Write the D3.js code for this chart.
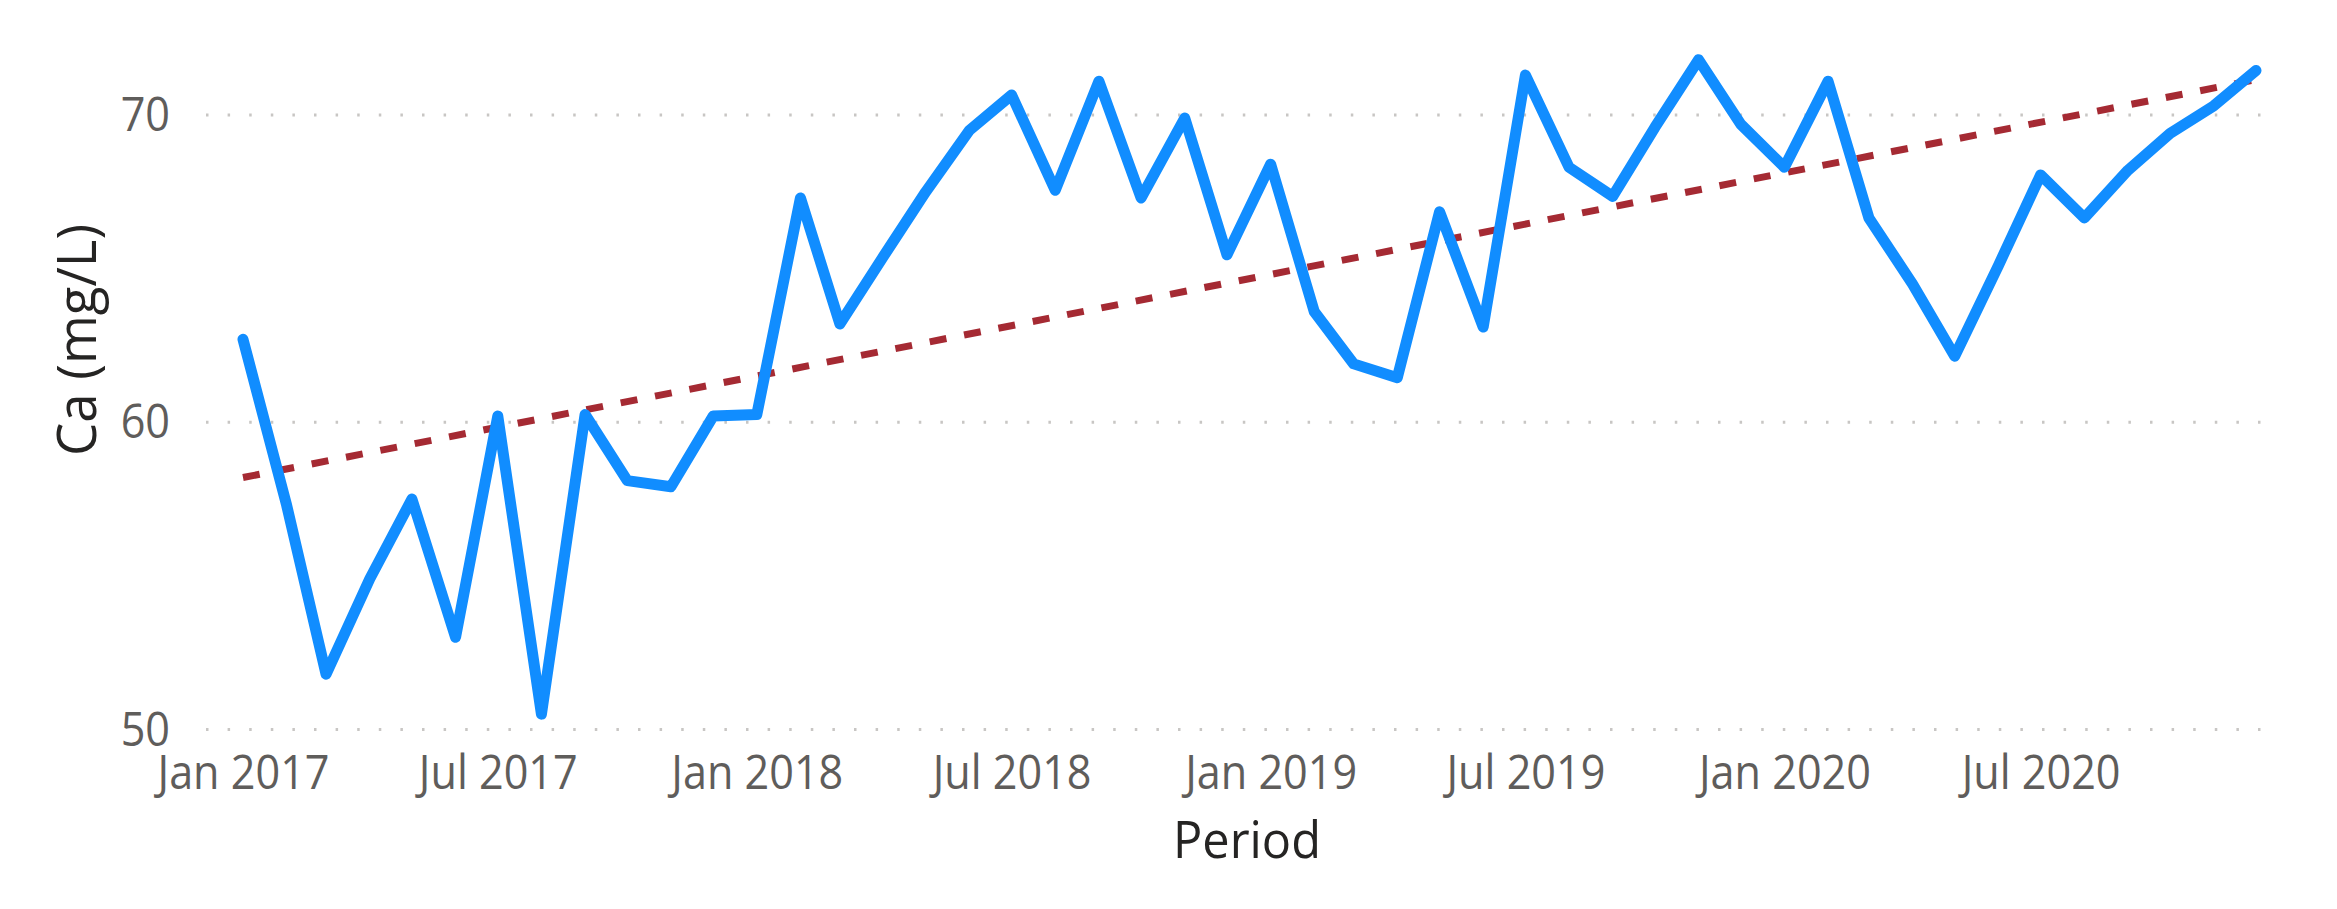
<!DOCTYPE html>
<html>
<head>
<meta charset="utf-8">
<script src="https://cdn.jsdelivr.net/npm/d3@7"></script>
<style>
  body { margin: 0; background: #ffffff; }
  svg { display: block; }
</style>
</head>
<body>
<svg id="chart" width="2337" height="909"></svg>
<script>
// ---------------- data ----------------
const periods = [
  "2017-01","2017-02","2017-03","2017-04","2017-05","2017-06","2017-07","2017-08","2017-09","2017-10","2017-11","2017-12",
  "2018-01","2018-02","2018-03","2018-04","2018-05","2018-06","2018-07","2018-08","2018-09","2018-10","2018-11","2018-12",
  "2019-01","2019-02","2019-03","2019-04","2019-05","2019-06","2019-07","2019-08","2019-09","2019-10","2019-11","2019-12",
  "2020-01","2020-02","2020-03","2020-04","2020-05","2020-06","2020-07","2020-08","2020-09","2020-10","2020-11","2020-12"
];
const caValues = [
  62.7, 57.3, 51.8, 54.9, 57.5, 53.0, 60.2, 50.5, 60.25, 58.1, 57.9, 60.2,
  60.25, 67.3, 63.2, 65.4, 67.5, 69.5, 70.65, 67.55, 71.1, 67.3, 69.9, 65.45,
  68.4, 63.6, 61.9, 61.45, 66.85, 63.1, 71.3, 68.3, 67.35, 69.6, 71.8, 69.7,
  68.3, 71.1, 66.65, 64.5, 62.15, 65.1, 68.05, 66.65, 68.2, 69.4, 70.3, 71.45
];
const trendPeriods = ["2017-01", "2020-12"];
const trendValues = [58.2, 71.15];
const yTicks = [50, 60, 70];
const xTickPeriods = ["2017-01","2017-07","2018-01","2018-07","2019-01","2019-07","2020-01","2020-07"];
const xTickLabels = ["Jan 2017","Jul 2017","Jan 2018","Jul 2018","Jan 2019","Jul 2019","Jan 2020","Jul 2020"];
const yTitle = "Ca (mg/L)";
const xTitle = "Period";

// ---------------- setup ----------------
const parse = d3.timeParse("%Y-%m");
const svg = d3.select("#chart");
const FONT = "'Open Sans', 'Noto Sans', sans-serif";

const x = d3.scaleTime()
  .domain([parse(periods[0]), parse(periods[periods.length - 1])])
  .range([243, 2256]);
const y = d3.scaleLinear().domain([50, 70]).range([729.5, 115]);

const gridX0 = 206, gridX1 = 2272;

// gridlines
svg.append("g").selectAll("line").data(yTicks).join("line")
  .attr("x1", gridX0).attr("x2", gridX1)
  .attr("y1", d => y(d)).attr("y2", d => y(d))
  .attr("stroke", "#c8c6c4")
  .attr("stroke-width", 3)
  .attr("stroke-dasharray", "2.5,19.1");

// y tick labels
const yLab = svg.append("g").selectAll("text").data(yTicks).join("text")
  .attr("text-anchor", "end")
  .attr("font-family", FONT)
  .attr("font-size", 47)
  .attr("fill", "#5f5d5b")
  .text(d => d);

// x axis
const xAxis = d3.axisBottom(x)
  .tickValues(xTickPeriods.map(parse))
  .tickFormat((d, i) => xTickLabels[i])
  .tickSize(0);
const gx = svg.append("g").attr("transform", "translate(0,789)").call(xAxis);
gx.select(".domain").remove();
gx.selectAll("text")
  .attr("y", 0).attr("dy", 0)
  .attr("font-family", FONT)
  .attr("font-size", 47)
  .attr("fill", "#5f5d5b");

// horizontal squeeze to match the reference lettering
const refTick = gx.selectAll("text").nodes()[0];
const kx = 172 / refTick.getComputedTextLength();
gx.selectAll("text").attr("transform", `scale(${kx},1)`).attr("x", 0);
yLab.attr("transform", d => `translate(170,${y(d) + 16}) scale(${kx},1)`);

// trend line
const trendData = trendPeriods.map((p, i) => ({ date: parse(p), v: trendValues[i] }));
svg.append("path")
  .datum(trendData)
  .attr("fill", "none")
  .attr("stroke", "#a52a33")
  .attr("stroke-width", 7)
  .attr("stroke-dasharray", "17,18")
  .attr("d", d3.line().x(d => x(d.date)).y(d => y(d.v)));

// main series line
const series = periods.map((p, i) => ({ date: parse(p), v: caValues[i] }));
svg.append("path")
  .datum(series)
  .attr("fill", "none")
  .attr("stroke", "#118dff")
  .attr("stroke-width", 11)
  .attr("stroke-linejoin", "round")
  .attr("stroke-linecap", "round")
  .attr("d", d3.line().x(d => x(d.date)).y(d => y(d.v)));

// axis titles
const xt = svg.append("text")
  .attr("font-family", FONT)
  .attr("font-size", 52)
  .attr("fill", "#252423")
  .attr("text-anchor", "middle")
  .text(xTitle);
const kxt = 148 / xt.node().getComputedTextLength();
xt.attr("transform", `translate(1247,858) scale(${kxt},1)`);

const yt = svg.append("text")
  .attr("font-family", FONT)
  .attr("font-size", 54)
  .attr("fill", "#252423")
  .attr("text-anchor", "middle")
  .text(yTitle);
const kyt = 232 / yt.node().getComputedTextLength();
yt.attr("transform", `translate(96,340) rotate(-90) scale(${kyt},1)`);
</script>
</body>
</html>
